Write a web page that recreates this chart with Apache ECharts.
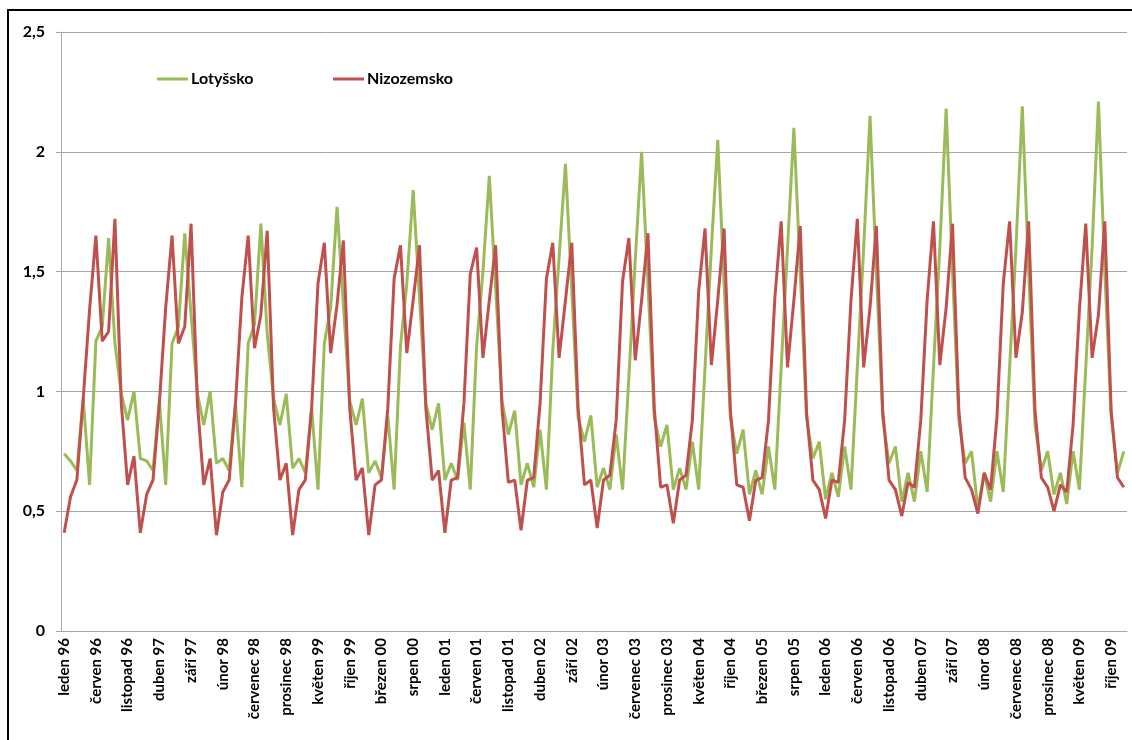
<!DOCTYPE html>
<html>
<head>
<meta charset="utf-8">
<script src="https://cdn.jsdelivr.net/npm/echarts@6/dist/echarts.min.js"></script>
<style>
  html, body { margin: 0; padding: 0; background: #ffffff; }
  #chart { width: 1132px; height: 740px; }
</style>
</head>
<body>
<div id="chart"></div>
<script>
// Month names and years used to build the category labels (leden 96 … prosinec 09)
const monthNames = ['leden', 'únor', 'březen', 'duben', 'květen', 'červen',
  'červenec', 'srpen', 'září', 'říjen', 'listopad', 'prosinec'];
const years = ['96', '97', '98', '99', '00', '01', '02', '03', '04', '05', '06', '07', '08', '09'];

// Value-axis tick labels (Czech decimal comma)
const yTickLabels = ['0', '0,5', '1', '1,5', '2', '2,5'];

// Lotyšsko, monthly values, one row per year
const lotyssko = [
  0.74, 0.71, 0.67, 0.97, 0.61, 1.21, 1.27, 1.64, 1.20, 0.99, 0.88, 1.00,
  0.72, 0.71, 0.67, 0.96, 0.61, 1.20, 1.27, 1.66, 1.32, 0.99, 0.86, 1.00,
  0.70, 0.72, 0.67, 0.95, 0.60, 1.20, 1.28, 1.70, 1.24, 0.97, 0.86, 0.99,
  0.68, 0.72, 0.66, 0.93, 0.59, 1.20, 1.35, 1.77, 1.36, 0.96, 0.86, 0.97,
  0.66, 0.71, 0.64, 0.90, 0.59, 1.19, 1.45, 1.84, 1.39, 0.95, 0.84, 0.95,
  0.63, 0.70, 0.63, 0.87, 0.59, 1.19, 1.50, 1.90, 1.43, 0.96, 0.82, 0.92,
  0.61, 0.70, 0.60, 0.84, 0.59, 1.17, 1.56, 1.95, 1.42, 0.89, 0.79, 0.90,
  0.60, 0.68, 0.59, 0.82, 0.59, 1.06, 1.55, 2.00, 1.45, 0.89, 0.77, 0.86,
  0.59, 0.68, 0.59, 0.79, 0.59, 1.10, 1.60, 2.05, 1.45, 0.89, 0.74, 0.84,
  0.57, 0.67, 0.57, 0.77, 0.59, 1.10, 1.60, 2.10, 1.50, 0.89, 0.72, 0.79,
  0.55, 0.66, 0.56, 0.77, 0.59, 1.10, 1.60, 2.15, 1.50, 0.89, 0.70, 0.77,
  0.54, 0.66, 0.54, 0.75, 0.58, 1.10, 1.60, 2.18, 1.50, 0.88, 0.70, 0.75,
  0.51, 0.66, 0.54, 0.75, 0.58, 1.10, 1.60, 2.19, 1.50, 0.86, 0.67, 0.75,
  0.57, 0.66, 0.53, 0.75, 0.59, 1.10, 1.60, 2.21, 1.50, 0.90, 0.66, 0.75
];

// Nizozemsko, monthly values, one row per year
const nizozemsko = [
  0.41, 0.56, 0.63, 0.97, 1.34, 1.65, 1.21, 1.25, 1.72, 0.95, 0.61, 0.73,
  0.41, 0.57, 0.63, 0.95, 1.35, 1.65, 1.20, 1.27, 1.70, 0.95, 0.61, 0.72,
  0.40, 0.58, 0.63, 0.95, 1.39, 1.65, 1.18, 1.32, 1.67, 0.93, 0.63, 0.70,
  0.40, 0.59, 0.63, 0.93, 1.45, 1.62, 1.16, 1.36, 1.63, 0.93, 0.63, 0.68,
  0.40, 0.61, 0.63, 0.93, 1.47, 1.61, 1.16, 1.38, 1.61, 0.93, 0.63, 0.67,
  0.41, 0.63, 0.64, 0.95, 1.49, 1.60, 1.14, 1.38, 1.61, 0.93, 0.62, 0.63,
  0.42, 0.63, 0.64, 0.95, 1.47, 1.62, 1.14, 1.38, 1.62, 0.93, 0.61, 0.63,
  0.43, 0.63, 0.65, 0.88, 1.46, 1.64, 1.13, 1.38, 1.66, 0.93, 0.60, 0.61,
  0.45, 0.63, 0.65, 0.88, 1.42, 1.68, 1.11, 1.38, 1.68, 0.92, 0.61, 0.60,
  0.46, 0.63, 0.64, 0.88, 1.39, 1.71, 1.10, 1.38, 1.69, 0.91, 0.63, 0.59,
  0.47, 0.63, 0.62, 0.88, 1.38, 1.72, 1.10, 1.35, 1.69, 0.92, 0.63, 0.59,
  0.48, 0.62, 0.60, 0.88, 1.38, 1.71, 1.11, 1.35, 1.70, 0.92, 0.64, 0.59,
  0.49, 0.66, 0.59, 0.89, 1.45, 1.71, 1.14, 1.33, 1.71, 0.92, 0.64, 0.60,
  0.50, 0.61, 0.58, 0.86, 1.34, 1.70, 1.14, 1.32, 1.71, 0.92, 0.64, 0.60
];

const categories = [];
years.forEach(y => monthNames.forEach(m => categories.push(m + ' ' + y)));

const GREEN = '#9BBB59';
const RED = '#C0504D';
const FONT = 'Lato, "Open Sans", sans-serif';

const chart = echarts.init(document.getElementById('chart'), null, { renderer: 'canvas' });

chart.setOption({
  backgroundColor: '#ffffff',
  animation: false,
  graphic: [{
    type: 'rect',
    shape: { x: 8, y: 10, width: 1200, height: 800 },
    style: { fill: 'none', stroke: '#000000', lineWidth: 2 },
    silent: true,
    z: -1
  }],
  legend: [{
    left: 157, top: 71, padding: 0,
    icon: 'rect', itemWidth: 31, itemHeight: 3, itemGap: 0,
    textStyle: { fontFamily: FONT, fontWeight: 'bold', fontSize: 16, color: '#000', padding: [0, 0, 0, -2] },
    data: ['Lotyšsko']
  }, {
    left: 333, top: 71, padding: 0,
    icon: 'rect', itemWidth: 31, itemHeight: 3, itemGap: 0,
    textStyle: { fontFamily: FONT, fontWeight: 'bold', fontSize: 16, color: '#000', padding: [0, 0, 0, -2] },
    data: ['Nizozemsko']
  }],
  grid: { left: 61, right: 5, top: 32, bottom: 109, containLabel: false },
  xAxis: {
    type: 'category',
    data: categories,
    boundaryGap: true,
    axisLine: { lineStyle: { color: '#a6a6a6', width: 1 } },
    axisTick: { interval: 4, length: 5, lineStyle: { color: '#a6a6a6' } },
    axisLabel: {
      interval: 4, rotate: 90, margin: 7,
      fontFamily: FONT, fontWeight: 'bold', fontSize: 15, color: '#000'
    },
    splitLine: { show: false }
  },
  yAxis: {
    type: 'value',
    min: 0, max: 2.5, interval: 0.5,
    axisLine: { show: true, lineStyle: { color: '#a6a6a6', width: 1 } },
    axisTick: { show: true, length: 5, lineStyle: { color: '#a6a6a6' } },
    axisLabel: {
      margin: 16,
      fontFamily: FONT, fontWeight: 'bold', fontSize: 16, color: '#000',
      formatter: v => yTickLabels[Math.round(v / 0.5)]
    },
    splitLine: { lineStyle: { color: '#a6a6a6', width: 1 } }
  },
  series: [{
    name: 'Lotyšsko',
    type: 'line',
    data: lotyssko,
    showSymbol: false,
    symbol: 'none',
    lineStyle: { color: GREEN, width: 3 },
    itemStyle: { color: GREEN },
    z: 2
  }, {
    name: 'Nizozemsko',
    type: 'line',
    data: nizozemsko,
    showSymbol: false,
    symbol: 'none',
    lineStyle: { color: RED, width: 3 },
    itemStyle: { color: RED },
    z: 3
  }]
});
</script>
</body>
</html>
